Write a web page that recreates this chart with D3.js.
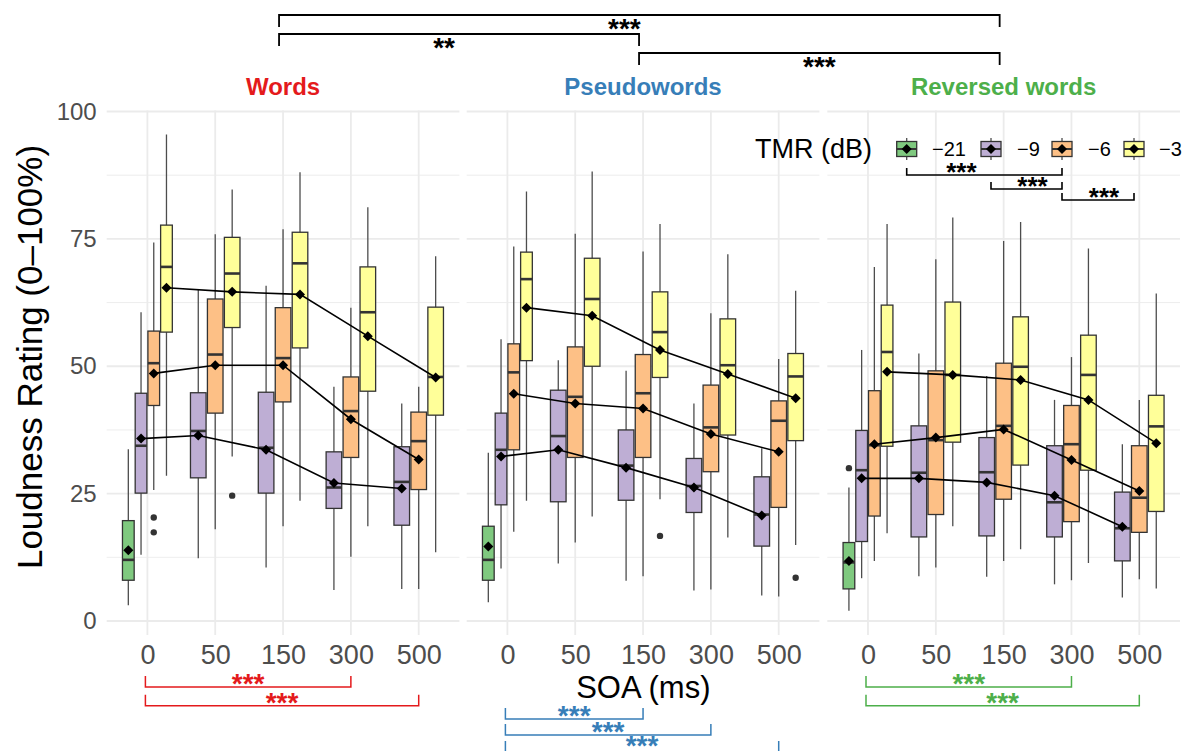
<!DOCTYPE html>
<html>
<head>
<meta charset="utf-8">
<script src="https://cdn.jsdelivr.net/npm/d3@7"></script>
<style>
  body { margin: 0; background: #fff; }
  svg { display: block; }
  text { font-family: "Liberation Sans", Arial, Helvetica, sans-serif; }
</style>
</head>
<body>
<svg id="chart" width="1186" height="751"></svg>
<script>
// ---- data -------------------------------------------------------------
const soaLevels = ["0", "50", "150", "300", "500"];
const conditions = ["Words", "Pseudowords", "Reversed words"];
const conditionColors = ["#E41A1C", "#377EB8", "#4DAF4A"];
const tmrLevels = ["\u221221", "\u22129", "\u22126", "\u22123"];
const tmrColors = ["#7FC97F", "#BEAED4", "#FDC086", "#FFFF99"];
const yTicks = [0, 25, 50, 75, 100];
const yMinor = [12.5, 37.5, 62.5, 87.5];

// per SOA: [lower whisker, Q1, median, Q3, upper whisker, mean]
const wordsTmr21 = [[3.1, 8.0, 12.0, 19.7, 33.7, 13.9], null, null, null, null];
const wordsTmr9 = [
  [13.0, 25.1, 34.4, 44.7, 60.6, 35.8],
  [12.3, 28.1, 37.3, 44.8, 65.0, 36.4],
  [10.5, 25.1, 34.0, 44.9, 65.8, 33.6],
  [6.1, 22.1, 26.2, 33.2, 46.0, 27.1],
  [6.3, 18.8, 27.3, 34.2, 42.7, 26.0]
];
const wordsTmr6 = [
  [25.7, 42.3, 50.6, 56.9, 74.3, 48.6],
  [18.0, 40.8, 52.3, 63.2, 75.9, 50.2],
  [18.6, 43.0, 51.6, 61.5, 76.9, 50.2],
  [12.6, 32.1, 41.2, 47.9, 61.5, 39.6],
  [6.3, 25.8, 35.3, 41.0, 46.0, 31.7]
];
const wordsTmr3 = [
  [28.5, 56.7, 69.5, 77.7, 95.5, 65.4],
  [32.3, 57.6, 68.2, 75.3, 84.7, 64.6],
  [23.6, 53.6, 70.2, 76.3, 88.1, 64.1],
  [18.6, 45.1, 60.6, 69.5, 81.2, 55.9],
  [13.5, 40.4, 47.9, 61.6, 71.6, 47.8]
];

const pseudoTmr21 = [[3.7, 8.0, 12.0, 18.6, 33.0, 14.6], null, null, null, null];
const pseudoTmr9 = [
  [10.3, 22.8, 33.6, 40.8, 55.3, 32.3],
  [11.3, 23.4, 36.3, 45.3, 51.2, 33.6],
  [7.9, 23.7, 30.5, 37.5, 49.1, 30.1],
  [6.0, 21.3, 26.5, 31.9, 42.7, 26.2],
  [5.0, 14.7, 20.9, 28.3, 33.9, 20.7]
];
const pseudoTmr6 = [
  [17.5, 33.6, 48.8, 54.4, 73.5, 44.6],
  [15.4, 32.1, 44.0, 53.8, 76.0, 42.7],
  [8.8, 32.1, 44.7, 52.3, 72.5, 41.7],
  [6.2, 29.3, 38.0, 46.3, 60.4, 36.7],
  [4.8, 22.3, 39.3, 43.2, 51.4, 33.2]
];
const pseudoTmr3 = [
  [23.6, 51.1, 67.1, 72.4, 84.3, 61.5],
  [20.5, 50.0, 63.2, 71.2, 88.2, 59.9],
  [23.9, 47.8, 56.7, 64.6, 77.9, 53.2],
  [16.4, 36.5, 50.2, 59.3, 72.0, 48.5],
  [14.9, 35.4, 48.0, 52.5, 64.8, 43.7]
];

const reversedTmr21 = [[2.0, 6.3, 11.5, 15.4, 26.2, 11.8], null, null, null, null];
const reversedTmr9 = [
  [8.4, 15.6, 29.6, 37.4, 53.2, 28.0],
  [8.8, 16.5, 29.1, 38.3, 52.5, 28.0],
  [8.7, 16.7, 29.2, 36.0, 48.1, 27.2],
  [7.2, 16.5, 23.3, 34.4, 43.4, 24.6],
  [4.6, 11.8, 18.2, 25.3, 34.7, 18.5]
];
const reversedTmr6 = [
  [11.8, 20.6, 34.5, 45.2, 69.5, 34.7],
  [10.5, 20.9, 35.5, 49.1, 71.0, 36.0],
  [11.8, 23.9, 38.3, 50.6, 74.6, 37.6],
  [8.0, 19.5, 34.7, 42.3, 51.8, 31.6],
  [8.2, 17.4, 24.2, 34.4, 43.4, 25.5]
];
const reversedTmr3 = [
  [17.2, 34.3, 52.8, 62.0, 77.9, 48.9],
  [18.6, 35.1, 48.3, 62.6, 79.2, 48.3],
  [14.1, 30.6, 49.9, 59.7, 78.3, 47.3],
  [11.4, 29.6, 48.3, 56.1, 73.1, 43.4],
  [6.4, 21.5, 38.2, 44.3, 64.3, 34.9]
];

// [condition, SOA, TMR, rating]
const outlierPoints = [
  ["Words", "0", "\u22126", 20.3],
  ["Words", "0", "\u22126", 17.4],
  ["Words", "50", "\u22123", 24.6],
  ["Pseudowords", "150", "\u22123", 16.7],
  ["Pseudowords", "500", "\u22123", 8.5],
  ["Reversed words", "0", "\u221221", 30.0]
];

// significance comparisons
const conditionBrackets = [
  ["Words", "Reversed words", "***"],
  ["Words", "Pseudowords", "**"],
  ["Pseudowords", "Reversed words", "***"]
];
const tmrBrackets = [
  ["\u221221", "\u22126", "***"],
  ["\u22129", "\u22126", "***"],
  ["\u22126", "\u22123", "***"]
];
const soaBrackets = [
  ["Words", "0", "300", "***"],
  ["Words", "0", "500", "***"],
  ["Pseudowords", "0", "150", "***"],
  ["Pseudowords", "0", "300", "***"],
  ["Pseudowords", "0", "500", "***"],
  ["Reversed words", "0", "300", "***"],
  ["Reversed words", "0", "500", "***"]
];

const statsByCondition = [
  [wordsTmr21, wordsTmr9, wordsTmr6, wordsTmr3],
  [pseudoTmr21, pseudoTmr9, pseudoTmr6, pseudoTmr3],
  [reversedTmr21, reversedTmr9, reversedTmr6, reversedTmr3]
];

// ---- layout -----------------------------------------------------------
const svg = d3.select("#chart");
const panelLeft = [106.7, 466.7, 827.3];
const panelWidth = 352.7;
const panelTop = 110.5, panelBottom = 635;
const gridColor = "#EBEBEB";
const boxStroke = "#333333";

const y = d3.scaleLinear().domain([0, 100]).range([621, 111.5]);
const xScales = panelLeft.map(L =>
  d3.scalePoint().domain(soaLevels).range([L, L + panelWidth]).padding(0.6));
const color = d3.scaleOrdinal().domain(tmrLevels).range(tmrColors);

// dodge groups within each SOA (ggplot-style, dodge width 0.75)
function groupsAt(c, s) {
  return d3.range(tmrLevels.length).filter(t => statsByCondition[c][t][s] != null);
}
function dodgeX(c, s, t) {
  const x = xScales[c];
  const dw = 0.75 * x.step();
  const g = groupsAt(c, s);
  const slot = dw / g.length;
  const k = g.indexOf(t);
  return { cx: x(soaLevels[s]) - dw / 2 + slot * (k + 0.5), w: slot * 0.92 };
}

// ---- panels: grid ------------------------------------------------------
conditions.forEach((cond, c) => {
  const x = xScales[c];
  const g = svg.append("g");
  g.selectAll("line.minor").data(yMinor).join("line")
    .attr("x1", panelLeft[c]).attr("x2", panelLeft[c] + panelWidth)
    .attr("y1", d => y(d)).attr("y2", d => y(d))
    .attr("stroke", gridColor).attr("stroke-width", 0.9);
  g.selectAll("line.major").data(yTicks).join("line")
    .attr("x1", panelLeft[c]).attr("x2", panelLeft[c] + panelWidth)
    .attr("y1", d => y(d)).attr("y2", d => y(d))
    .attr("stroke", gridColor).attr("stroke-width", 1.8);
  g.selectAll("line.vert").data(soaLevels).join("line")
    .attr("x1", d => x(d)).attr("x2", d => x(d))
    .attr("y1", panelTop).attr("y2", panelBottom)
    .attr("stroke", gridColor).attr("stroke-width", 1.8);

  // facet title
  svg.append("text")
    .attr("x", panelLeft[c] + panelWidth / 2).attr("y", 95)
    .attr("text-anchor", "middle")
    .attr("font-size", 24).attr("font-weight", "bold")
    .attr("fill", conditionColors[c])
    .text(cond);

  // x axis
  const ax = svg.append("g")
    .attr("transform", `translate(0,${panelBottom})`)
    .call(d3.axisBottom(x).tickSize(0).tickPadding(10));
  ax.select(".domain").remove();
  ax.selectAll("text").attr("font-size", 27).attr("fill", "#4D4D4D")
    .style("font-family", "'Liberation Sans', Arial, sans-serif");
});

// y axis
const ay = svg.append("g")
  .attr("transform", `translate(${panelLeft[0]},0)`)
  .call(d3.axisLeft(y).tickValues(yTicks).tickSize(0).tickPadding(10));
ay.select(".domain").remove();
ay.selectAll("text").attr("font-size", 24).attr("fill", "#4D4D4D")
  .style("font-family", "'Liberation Sans', Arial, sans-serif");

// axis titles
svg.append("text")
  .attr("x", (panelLeft[0] + panelLeft[2] + panelWidth) / 2).attr("y", 698)
  .attr("text-anchor", "middle").attr("font-size", 31).attr("fill", "#000")
  .text("SOA (ms)");
svg.append("text")
  .attr("transform", "translate(42,357) rotate(-90)")
  .attr("text-anchor", "middle").attr("font-size", 35).attr("fill", "#000")
  .text("Loudness Rating (0\u2013100%)");

// ---- boxplots ---------------------------------------------------------
const boxes = [];
conditions.forEach((cond, c) => {
  soaLevels.forEach((soa, s) => {
    groupsAt(c, s).forEach(t => {
      const st = statsByCondition[c][t][s];
      const d = dodgeX(c, s, t);
      boxes.push({ c, s, t, cx: d.cx, w: d.w,
        lo: st[0], q1: st[1], med: st[2], q3: st[3], hi: st[4], mean: st[5] });
    });
  });
});

const boxG = svg.append("g");
boxG.selectAll("line.whisker").data(boxes).join("line")
  .attr("x1", d => d.cx).attr("x2", d => d.cx)
  .attr("y1", d => y(d.lo)).attr("y2", d => y(d.hi))
  .attr("stroke", "#4D4D4D").attr("stroke-width", 1.3);
boxG.selectAll("rect.box").data(boxes).join("rect")
  .attr("x", d => d.cx - d.w / 2).attr("width", d => d.w)
  .attr("y", d => y(d.q3)).attr("height", d => y(d.q1) - y(d.q3))
  .attr("fill", d => color(tmrLevels[d.t]))
  .attr("stroke", boxStroke).attr("stroke-width", 1.3);
boxG.selectAll("line.median").data(boxes).join("line")
  .attr("x1", d => d.cx - d.w / 2).attr("x2", d => d.cx + d.w / 2)
  .attr("y1", d => y(d.med)).attr("y2", d => y(d.med))
  .attr("stroke", boxStroke).attr("stroke-width", 2.6);

// outliers
boxG.selectAll("circle.out").data(outlierPoints).join("circle")
  .attr("cx", d => {
    const c = conditions.indexOf(d[0]);
    return dodgeX(c, soaLevels.indexOf(d[1]), tmrLevels.indexOf(d[2])).cx;
  })
  .attr("cy", d => y(d[3])).attr("r", 3.2).attr("fill", "#333");

// ---- mean lines and diamonds -----------------------------------------
const line = d3.line().x(d => d.cx).y(d => y(d.mean));
conditions.forEach((cond, c) => {
  tmrLevels.forEach((tmr, t) => {
    const pts = boxes.filter(b => b.c === c && b.t === t);
    if (pts.length > 1) {
      svg.append("path").datum(pts).attr("d", line)
        .attr("fill", "none").attr("stroke", "#000").attr("stroke-width", 1.6);
    }
  });
});
const diamond = r => `M0,${-r}L${r},0L0,${r}L${-r},0Z`;
svg.append("g").selectAll("path").data(boxes).join("path")
  .attr("transform", d => `translate(${d.cx},${y(d.mean)})`)
  .attr("d", diamond(5)).attr("fill", "#000");

// ---- legend -----------------------------------------------------------
const legendKeyX = [906.7, 991, 1062, 1134];
const legendLabelX = [932, 1017, 1088, 1159];
const legendY = 149;
svg.append("text").attr("x", 755).attr("y", 158)
  .attr("font-size", 27).attr("fill", "#000").text("TMR (dB)");
const lg = svg.append("g");
tmrLevels.forEach((tmr, i) => {
  const kx = legendKeyX[i];
  lg.append("line").attr("x1", kx).attr("x2", kx)
    .attr("y1", legendY - 11).attr("y2", legendY + 11)
    .attr("stroke", "#4D4D4D").attr("stroke-width", 1.3);
  lg.append("rect").attr("x", kx - 10).attr("y", legendY - 7.5)
    .attr("width", 20).attr("height", 15)
    .attr("fill", color(tmr)).attr("stroke", boxStroke).attr("stroke-width", 1.3);
  lg.append("line").attr("x1", kx - 10).attr("x2", kx + 10)
    .attr("y1", legendY).attr("y2", legendY)
    .attr("stroke", boxStroke).attr("stroke-width", 2);
  lg.append("path").attr("transform", `translate(${kx},${legendY})`)
    .attr("d", diamond(5)).attr("fill", "#000");
  lg.append("text").attr("x", legendLabelX[i]).attr("y", legendY + 7)
    .attr("font-size", 20).attr("fill", "#000").text(tmr);
});

// ---- significance brackets -------------------------------------------
// stars are placed by the visual centre of the asterisk glyphs
function starText(g, cx, cy, label, size, fill) {
  g.append("text").attr("x", cx).attr("y", cy + size * 0.43)
    .attr("text-anchor", "middle").attr("font-size", size)
    .attr("font-weight", "bold").attr("fill", fill).text(label);
}
function bracketPath(x1, x2, yLine, tip) {
  return `M${x1},${yLine + tip}V${yLine}H${x2}V${yLine + tip}`;
}

// between conditions (top)
const topRows = [15, 34, 53];
const topLabelShift = [-15, -15, 0];
const panelCenter = c => panelLeft[c] + panelWidth / 2 - 4;
const topG = svg.append("g");
conditionBrackets.forEach((b, i) => {
  const x1 = panelCenter(conditions.indexOf(b[0]));
  const x2 = panelCenter(conditions.indexOf(b[1]));
  topG.append("path").attr("d", bracketPath(x1, x2, topRows[i], 12))
    .attr("fill", "none").attr("stroke", "#000").attr("stroke-width", 1.8);
  starText(topG, (x1 + x2) / 2 + topLabelShift[i], topRows[i] + 11, b[2], 28, "#000");
});

// between TMR levels (legend)
const tmrRows = [175, 189, 200];
const tmrLabelShift = [-23, 6, 6];
const tmrG = svg.append("g");
tmrBrackets.forEach((b, i) => {
  const x1 = legendKeyX[tmrLevels.indexOf(b[0])];
  const x2 = legendKeyX[tmrLevels.indexOf(b[1])];
  tmrG.append("path").attr("d", bracketPath(x1, x2, tmrRows[i], -7))
    .attr("fill", "none").attr("stroke", "#000").attr("stroke-width", 1.6);
  starText(tmrG, (x1 + x2) / 2 + tmrLabelShift[i], tmrRows[i] - 5, b[2], 26, "#000");
});

// between SOAs (below each panel)
const soaRows = { "Words": [687, 705.7], "Pseudowords": [719, 735, 752], "Reversed words": [687, 705.7] };
const soaG = svg.append("g");
const rowCount = {};
soaBrackets.forEach(b => {
  const c = conditions.indexOf(b[0]);
  const k = rowCount[b[0]] = (rowCount[b[0]] || 0);
  rowCount[b[0]] = k + 1;
  const yl = soaRows[b[0]][k];
  const x1 = xScales[c](b[1]) - 2, x2 = xScales[c](b[2]);
  soaG.append("path").attr("d", bracketPath(x1, x2, yl, -11))
    .attr("fill", "none").attr("stroke", conditionColors[c]).attr("stroke-width", 1.5);
  starText(soaG, (x1 + x2) / 2, Math.min(yl - 6, 743), b[3], 28, conditionColors[c]);
});
</script>
</body>
</html>
